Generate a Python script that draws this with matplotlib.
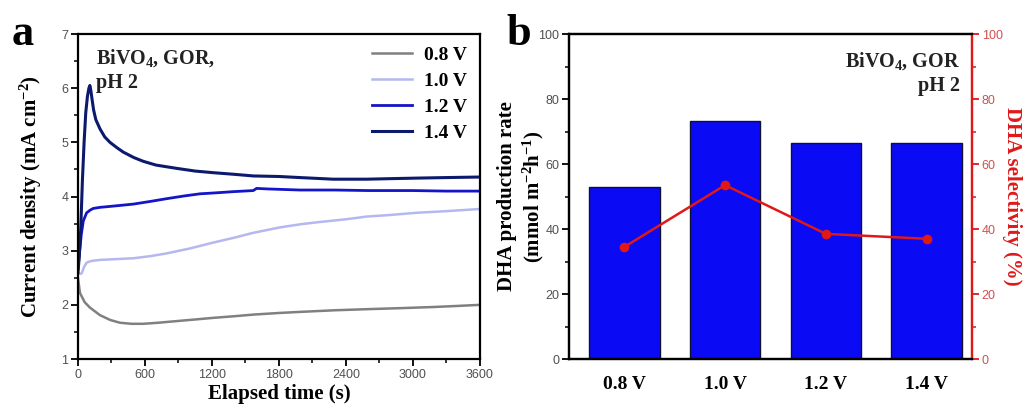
import numpy as np
import matplotlib.pyplot as plt
from matplotlib.ticker import MultipleLocator

plt.rcParams['font.family'] = 'Liberation Serif'
plt.rcParams['mathtext.fontset'] = 'custom'
plt.rcParams['mathtext.rm'] = 'Liberation Serif:bold'
plt.rcParams['mathtext.it'] = 'Liberation Serif:bold'
plt.rcParams['mathtext.bf'] = 'Liberation Serif:bold'

# panel a: chronoamperometry, hand-read points
t_08 = [0, 18, 60, 107, 197, 290, 376, 480, 585, 720, 884, 1050, 1212, 1400, 1570, 1800, 1988, 2300, 2585, 2900, 3182, 3400, 3600]
j_08 = [2.50, 2.22, 2.05, 1.95, 1.81, 1.72, 1.67, 1.65, 1.65, 1.67, 1.70, 1.73, 1.76, 1.79, 1.82, 1.85, 1.87, 1.90, 1.92, 1.94, 1.96, 1.98, 2.00]

t_10 = [0, 15, 33, 55, 78, 120, 197, 300, 496, 650, 794, 1000, 1212, 1400, 1570, 1809, 2000, 2167, 2400, 2585, 2800, 3033, 3300, 3600]
j_10 = [2.60, 2.57, 2.58, 2.70, 2.78, 2.81, 2.83, 2.84, 2.86, 2.90, 2.95, 3.04, 3.15, 3.24, 3.33, 3.43, 3.49, 3.53, 3.58, 3.63, 3.66, 3.70, 3.73, 3.77]

t_12 = [0, 10, 18, 30, 48, 78, 110, 137, 197, 300, 496, 650, 794, 950, 1093, 1250, 1391, 1570, 1600, 1700, 1988, 2300, 2600, 3000, 3300, 3600]
j_12 = [2.65, 2.90, 3.05, 3.30, 3.55, 3.70, 3.75, 3.78, 3.80, 3.82, 3.86, 3.91, 3.96, 4.01, 4.05, 4.07, 4.09, 4.11, 4.15, 4.14, 4.12, 4.12, 4.11, 4.11, 4.10, 4.10]

t_14 = [0, 12, 25, 40, 55, 70, 85, 98, 107, 116, 126, 140, 160, 197, 240, 287, 350, 406, 500, 585, 700, 884, 1050, 1212, 1400, 1570, 1800, 1988, 2287, 2585, 2800, 3033, 3300, 3600]
j_14 = [2.60, 2.90, 3.40, 4.30, 5.00, 5.55, 5.85, 6.00, 6.05, 5.95, 5.80, 5.60, 5.42, 5.25, 5.10, 5.00, 4.90, 4.82, 4.72, 4.65, 4.58, 4.52, 4.47, 4.44, 4.41, 4.38, 4.37, 4.35, 4.32, 4.32, 4.33, 4.34, 4.35, 4.36]

# panel b
potentials = ['0.8 V', '1.0 V', '1.2 V', '1.4 V']
rate = [53.0, 73.3, 66.6, 66.6]
selectivity = [34.5, 53.5, 38.5, 37.0]

red = '#e01818'
tick_gray = '#505050'

fig = plt.figure(figsize=(10.27, 4.12), dpi=100)

#%% panel a
ax1 = fig.add_axes([0.0759, 0.1286, 0.3914, 0.7888])
ax1.plot(t_08, j_08, color='#808080', lw=1.8, label='0.8 V')
ax1.plot(t_10, j_10, color='#b4b8f0', lw=1.8, label='1.0 V')
ax1.plot(t_12, j_12, color='#1414c8', lw=2.0, label='1.2 V')
ax1.plot(t_14, j_14, color='#0c1a6e', lw=2.2, label='1.4 V')
ax1.set_xlim(0, 3600)
ax1.set_ylim(1, 7)
ax1.xaxis.set_major_locator(MultipleLocator(600))
ax1.xaxis.set_minor_locator(MultipleLocator(300))
ax1.yaxis.set_major_locator(MultipleLocator(1))
ax1.yaxis.set_minor_locator(MultipleLocator(0.5))
ax1.set_xlabel('Elapsed time (s)', fontsize=15, fontweight='bold', labelpad=2)
ax1.set_ylabel('Current density (mA cm$^{-2}$)', fontsize=15, fontweight='bold')
ax1.yaxis.set_label_coords(-0.085, 0.5)
ax1.text(0.045, 0.96, 'BiVO$_4$, GOR,\npH 2', transform=ax1.transAxes, fontsize=14.5,
         fontweight='bold', va='top', ha='left', color='#222222', linespacing=1.25)
ax1.legend(loc='upper right', frameon=False, prop={'size': 14, 'weight': 'bold'},
           handlelength=2.1, labelspacing=0.42, borderaxespad=0.25, handletextpad=0.6)
ax1.text(-0.165, 1.0, 'a', transform=ax1.transAxes, fontsize=32, fontweight='bold', va='center', ha='left')

#%% panel b
ax2 = fig.add_axes([0.554, 0.1286, 0.3924, 0.7888])
x = np.arange(1, len(potentials) + 1)
ax2.bar(x, rate, width=0.7, color='#0a0af5', edgecolor='#101030', lw=1.0, zorder=2)
ax2.set_xlim(0.45, 4.45)
ax2.set_ylim(0, 100)
ax2.yaxis.set_major_locator(MultipleLocator(20))
ax2.yaxis.set_minor_locator(MultipleLocator(10))
ax2.set_xticks(x)
ax2.set_ylabel('DHA production rate\n(mmol m$^{-2}$h$^{-1}$)', fontsize=15, fontweight='bold')
ax2.yaxis.set_label_coords(-0.057, 0.5)
ax2.text(0.97, 0.95, 'BiVO$_4$, GOR\npH 2', transform=ax2.transAxes, fontsize=14.5,
         fontweight='bold', va='top', ha='right', color='#222222', linespacing=1.25)
ax2.text(-0.155, 1.0, 'b', transform=ax2.transAxes, fontsize=32, fontweight='bold', va='center', ha='left')

ax3 = ax2.twinx()
ax3.plot(x, selectivity, color=red, lw=1.8, marker='o', ms=6, zorder=3)
ax3.set_ylim(0, 100)
ax3.yaxis.set_major_locator(MultipleLocator(20))
ax3.yaxis.set_minor_locator(MultipleLocator(10))
ax3.set_ylabel('DHA selectivity (%)', fontsize=15, fontweight='bold', color=red,
               rotation=270, va='bottom')
ax3.yaxis.set_label_coords(1.075, 0.5)

for ax in (ax1, ax2, ax3):
    for s in ax.spines.values():
        s.set_linewidth(1.6)
    ax.tick_params(which='major', direction='out', length=5, width=1.3, pad=2)
    ax.tick_params(which='minor', direction='out', length=3, width=1.1)
for ax in (ax1, ax2):
    ax.tick_params(labelsize=9, labelcolor=tick_gray)
    for lab in ax.get_yticklabels() + ax.get_xticklabels():
        lab.set_fontfamily('Liberation Sans')
ax3.tick_params(axis='y', which='both', colors=red, labelcolor='#d05050', labelsize=9)
for lab in ax3.get_yticklabels():
    lab.set_fontfamily('Liberation Sans')
ax2.spines['right'].set_color(red)
ax3.spines['right'].set_color(red)

# category labels of panel b are bold serif in black
ax2.set_xticklabels(potentials, fontsize=14, fontweight='bold', color='black', fontfamily='Liberation Serif')
ax2.tick_params(axis='x', length=0, pad=12)

fig.savefig('out.png', dpi=100)
